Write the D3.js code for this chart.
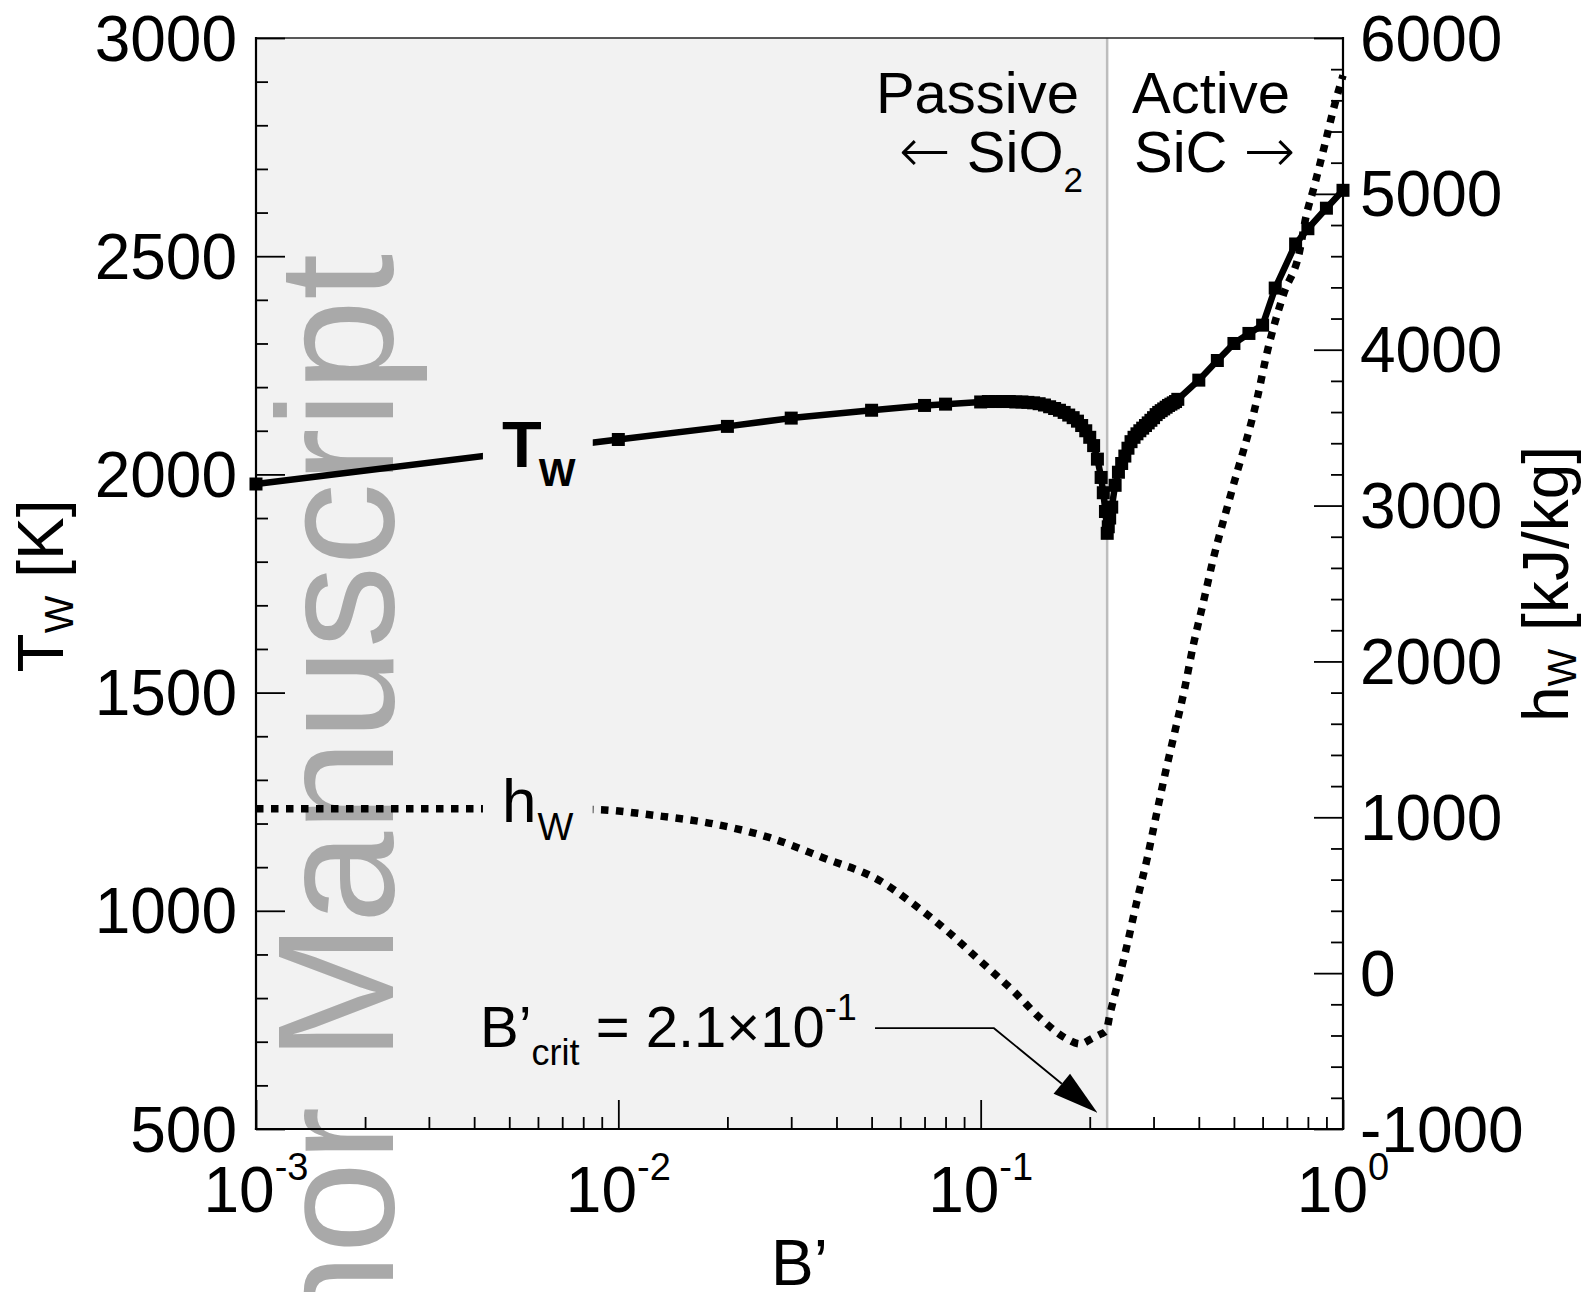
<!DOCTYPE html>
<html><head><meta charset="utf-8">
<script src="https://cdn.jsdelivr.net/npm/d3@7"></script>
<style>
body{margin:0;background:#fff;}
svg{display:block;font-family:"Liberation Sans",Arial,Helvetica,sans-serif;}
</style></head><body>
<svg id="chart" width="1593" height="1292"></svg>
<script>
// ---- data ----
const bTw = [0.001, 0.01, 0.02, 0.03, 0.05, 0.07, 0.08, 0.1, 0.105, 0.11, 0.115, 0.12, 0.125, 0.13, 0.135, 0.14, 0.145, 0.15, 0.155, 0.16, 0.165, 0.17, 0.175, 0.18, 0.185, 0.19, 0.195, 0.2, 0.205, 0.21, 0.215, 0.218, 0.221, 0.2235, 0.225, 0.227, 0.23, 0.235, 0.24, 0.245, 0.25, 0.255, 0.26, 0.265, 0.27, 0.275, 0.28, 0.285, 0.29, 0.295, 0.3, 0.305, 0.31, 0.315, 0.32, 0.325, 0.33, 0.335, 0.34, 0.345, 0.35, 0.4, 0.45, 0.5, 0.55, 0.6, 0.65, 0.74, 0.8, 0.9, 1.0];
const tw  = [1978, 2080, 2110, 2129, 2147, 2158, 2161, 2166, 2167, 2167, 2167, 2167, 2166, 2166, 2165, 2164, 2162, 2159, 2155, 2151, 2147, 2142, 2136, 2130, 2122, 2112, 2100, 2085, 2066, 2035, 1993, 1958, 1915, 1865, 1880, 1900, 1925, 1975, 2005, 2025, 2042, 2060, 2075, 2085, 2093, 2100, 2106, 2112, 2118, 2124, 2130, 2137, 2142, 2146, 2150, 2154, 2158, 2161, 2164, 2167, 2172, 2216, 2261, 2300, 2323, 2342, 2427, 2528, 2563, 2610, 2651];

const bHw = [0.001, 0.002, 0.003, 0.005, 0.007, 0.0087, 0.0128, 0.0182, 0.0262, 0.0367, 0.0527, 0.0651, 0.0807, 0.0996, 0.123, 0.1487, 0.173, 0.188, 0.204, 0.214, 0.222, 0.2275, 0.238, 0.254, 0.270, 0.288, 0.305, 0.323, 0.344, 0.366, 0.386, 0.411, 0.4375, 0.491, 0.58, 0.617, 0.687, 0.757, 0.79, 0.832, 0.893, 0.94, 1.0];
const hw  = [1055, 1055, 1055, 1054, 1052, 1049, 1010, 959, 869, 741, 593, 445, 272, 79, -114, -306, -422, -454, -416, -392, -371, -261, -82, 188, 464, 734, 1010, 1280, 1556, 1832, 2102, 2372, 2648, 3078, 3690, 3980, 4363, 4620, 4851, 5044, 5326, 5538, 5760];

const xMajorTicks = [1e-3, 1e-2, 1e-1, 1];
const xTickExponents = ["-3", "-2", "-1", "0"];
const tTicks = [500, 1000, 1500, 2000, 2500, 3000];
const hTicks = [-1000, 0, 1000, 2000, 3000, 4000, 5000, 6000];

const boundaryB = 0.2234;          // passive / active transition line
const labelGap = [0.00423, 0.0085]; // where the curve labels sit
const annotPath = [[0.0511, 731], [0.1088, 731], [0.21, 537]]; // B'crit pointer (B', T)

// ---- layout ----
const m = {left: 256, right: 1343, top: 38, bottom: 1129};
const FS = 64, FA = 58;
const svg = d3.select("#chart");
const x = d3.scaleLog().domain([1e-3, 1]).range([m.left, m.right]);
const yT = d3.scaleLinear().domain([500, 3000]).range([m.bottom, m.top]);
const yH = d3.scaleLinear().domain([-1000, 6000]).range([m.bottom, m.top]);
const bx = x(boundaryB);

// shading
svg.append("rect").attr("x", m.left).attr("y", m.top)
  .attr("width", bx - m.left).attr("height", m.bottom - m.top).attr("fill", "#f2f2f2");

// watermark
svg.append("text").attr("transform", "translate(393,254) rotate(-90)")
  .attr("text-anchor", "end").attr("font-size", 165).attr("fill", "#a9a9a9")
  .text("Author Manuscript");

// boundary line
svg.append("line").attr("x1", bx).attr("x2", bx).attr("y1", m.top).attr("y2", m.bottom)
  .attr("stroke", "#bdbdbd").attr("stroke-width", 2.5);

// h_w dotted curve
const hData = bHw.map((b, i) => [b, hw[i]]);
svg.append("path").datum(hData)
  .attr("d", d3.line().x(d => x(d[0])).y(d => yH(d[1])).curve(d3.curveMonotoneX))
  .attr("fill", "none").attr("stroke", "#000").attr("stroke-width", 7.5)
  .attr("stroke-dasharray", "7.5 7.5").attr("stroke-linecap", "butt");

// T_w line with markers
const tData = bTw.map((b, i) => [b, tw[i]]);
svg.append("path").datum(tData)
  .attr("d", d3.line().x(d => x(d[0])).y(d => yT(d[1])))
  .attr("fill", "none").attr("stroke", "#000").attr("stroke-width", 6.5).attr("stroke-linejoin", "round");
svg.append("g").selectAll("rect").data(tData).join("rect")
  .attr("x", d => x(d[0]) - 6.5).attr("y", d => yT(d[1]) - 6.5)
  .attr("width", 13).attr("height", 13).attr("fill", "#000");

// label gaps
const gx0 = x(labelGap[0]), gx1 = x(labelGap[1]);
svg.append("rect").attr("x", gx0).attr("width", gx1 - gx0).attr("y", yT(2140)).attr("height", yT(2000) - yT(2140)).attr("fill", "#f2f2f2");
svg.append("rect").attr("x", gx0).attr("width", gx1 - gx0).attr("y", yH(1180)).attr("height", yH(930) - yH(1180)).attr("fill", "#f2f2f2");

// curve labels
const tl = svg.append("text").attr("x", 502).attr("y", 467).attr("font-weight", "bold").attr("font-size", 65);
tl.append("tspan").text("T");
tl.append("tspan").attr("font-size", 39).attr("dy", 19).attr("dx", -3).text("W");
const hl = svg.append("text").attr("x", 502).attr("y", 822).attr("font-size", 62);
hl.append("tspan").text("h");
hl.append("tspan").attr("font-size", 38).attr("dy", 18).attr("dx", 1).text("W");

// axes frame
svg.append("line").attr("x1", m.left).attr("x2", m.right).attr("y1", m.top).attr("y2", m.top)
  .attr("stroke", "#222").attr("stroke-width", 1.5);
const frame = [[m.left, m.top, m.left, m.bottom], [m.left, m.bottom, m.right, m.bottom], [m.right, m.top, m.right, m.bottom]];
svg.append("g").selectAll("line").data(frame).join("line")
  .attr("x1", d => d[0]).attr("y1", d => d[1]).attr("x2", d => d[2]).attr("y2", d => d[3])
  .attr("stroke", "#000").attr("stroke-width", 2.2).attr("stroke-linecap", "square");

function styleAxis(g) { g.select(".domain").remove(); g.selectAll("line").attr("stroke", "#000").attr("stroke-width", 1.8); }

// left ticks
const tMinor = d3.range(600, 3000, 100).filter(v => v % 500 !== 0);
svg.append("g").attr("transform", `translate(${m.left},0)`)
  .call(d3.axisLeft(yT).tickValues(tTicks).tickSize(-29).tickSizeOuter(0).tickFormat("")).call(styleAxis);
svg.append("g").attr("transform", `translate(${m.left},0)`)
  .call(d3.axisLeft(yT).tickValues(tMinor).tickSize(-12).tickSizeOuter(0).tickFormat("")).call(styleAxis);
svg.append("g").selectAll("text").data(tTicks).join("text")
  .attr("x", 237).attr("y", d => yT(d) + 22.5).attr("text-anchor", "end").attr("font-size", FS).text(d => d);

// right ticks
const hMinor = d3.range(-800, 6000, 200).filter(v => v % 1000 !== 0);
svg.append("g").attr("transform", `translate(${m.right},0)`)
  .call(d3.axisRight(yH).tickValues(hTicks).tickSize(-29).tickSizeOuter(0).tickFormat("")).call(styleAxis);
svg.append("g").attr("transform", `translate(${m.right},0)`)
  .call(d3.axisRight(yH).tickValues(hMinor).tickSize(-12).tickSizeOuter(0).tickFormat("")).call(styleAxis);
svg.append("g").selectAll("text").data(hTicks).join("text")
  .attr("x", 1360).attr("y", d => yH(d) + 22.5).attr("text-anchor", "start").attr("font-size", FS).text(d => d);

// bottom ticks
const xMinor = [];
xMajorTicks.slice(0, 3).forEach(d => { for (let k = 2; k <= 9; k++) xMinor.push(d * k); });
svg.append("g").attr("transform", `translate(0,${m.bottom})`)
  .call(d3.axisBottom(x).tickValues(xMajorTicks).tickSize(-29).tickSizeOuter(0).tickFormat("")).call(styleAxis);
svg.append("g").attr("transform", `translate(0,${m.bottom})`)
  .call(d3.axisBottom(x).tickValues(xMinor).tickSize(-12).tickSizeOuter(0).tickFormat("")).call(styleAxis);
const xl = svg.append("g").selectAll("text").data(xMajorTicks).join("text")
  .attr("x", d => x(d)).attr("y", 1212).attr("text-anchor", "middle").attr("font-size", FS);
xl.append("tspan").text("10");
xl.append("tspan").attr("font-size", 38).attr("dy", -32).text((d, i) => xTickExponents[i]);

// axis titles
svg.append("text").attr("x", (m.left + m.right) / 2).attr("y", 1285).attr("text-anchor", "middle")
  .attr("font-size", FS).text("B’");
const lt = svg.append("text").attr("transform", "translate(63,586) rotate(-90)").attr("text-anchor", "middle").attr("font-size", FS);
lt.append("tspan").text("T");
lt.append("tspan").attr("font-size", 40).attr("dy", 10).text("W");
lt.append("tspan").attr("dy", -10).text(" [K]");
const rt = svg.append("text").attr("transform", "translate(1568,584) rotate(-90)").attr("text-anchor", "middle").attr("font-size", FS);
rt.append("tspan").text("h");
rt.append("tspan").attr("font-size", 40).attr("dy", 8).text("W");
rt.append("tspan").attr("dy", -8).text(" [kJ/kg]");

// regime annotations
svg.append("text").attr("x", 1079).attr("y", 113).attr("text-anchor", "end").attr("font-size", FA).text("Passive");
const p2 = svg.append("text").attr("x", 1083).attr("y", 172).attr("text-anchor", "end").attr("font-size", FA);
p2.append("tspan").attr("font-family", "DejaVu Sans").attr("font-weight", 200).attr("font-size", 62).text("←");
p2.append("tspan").text(" SiO");
p2.append("tspan").attr("font-size", 35).attr("dy", 20).text("2");
svg.append("text").attr("x", 1132).attr("y", 113).attr("font-size", FA).text("Active");
const a2 = svg.append("text").attr("x", 1134).attr("y", 172).attr("font-size", FA);
a2.append("tspan").text("SiC ");
a2.append("tspan").attr("font-family", "DejaVu Sans").attr("font-weight", 200).attr("font-size", 62).text("→");

// B'crit annotation
const bc = svg.append("text").attr("x", 480).attr("y", 1047).attr("font-size", FA);
bc.append("tspan").text("B’");
bc.append("tspan").attr("font-size", 36).attr("dy", 18).text("crit");
bc.append("tspan").attr("dy", -18).text(" = 2.1×10");
bc.append("tspan").attr("font-size", 36).attr("dy", -27).text("-1");

const ap = annotPath.map(d => [x(d[0]), yT(d[1])]);
const tip = ap[ap.length - 1], prev = ap[ap.length - 2];
const ang = Math.atan2(tip[1] - prev[1], tip[0] - prev[0]);
const L = 46, hwid = 13;
const base = [tip[0] - L * Math.cos(ang), tip[1] - L * Math.sin(ang)];
svg.append("path").attr("d", d3.line()([...ap.slice(0, -1), base]))
  .attr("fill", "none").attr("stroke", "#000").attr("stroke-width", 1.8);
svg.append("path").attr("d", d3.line()([tip,
  [base[0] + hwid * Math.sin(ang), base[1] - hwid * Math.cos(ang)],
  [base[0] - hwid * Math.sin(ang), base[1] + hwid * Math.cos(ang)]]) + "Z")
  .attr("fill", "#000");
</script>
</body></html>
